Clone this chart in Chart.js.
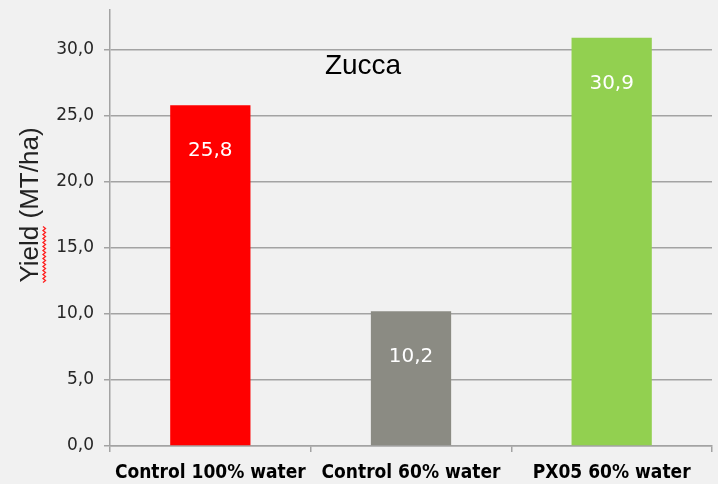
<!DOCTYPE html>
<html>
<head>
<meta charset="utf-8">
<script src="https://cdn.jsdelivr.net/npm/chart.js@4/dist/chart.umd.min.js"></script>
<style>
  html, body { margin: 0; padding: 0; background: #f1f1f1; }
  canvas { display: block; }
</style>
</head>
<body>
<canvas id="yield-chart" width="718" height="484"></canvas>
<script>
const categories = ['Control 100% water', 'Control 60% water', 'PX05 60% water'];
const yieldValues = [25.8, 10.2, 30.9];
const barColors = ['#ff0000', '#8b8b83', '#92d050'];
const yTicks = [0, 5, 10, 15, 20, 25, 30];
const chartTitle = 'Zucca';
const yTitle = 'Yield (MT/ha)';

const gridColor = '#a3a3a3';
const tickColor = '#262626';

const formatValue = (v) => v.toFixed(1).replace('.', ',');

const annotations = {
    id: 'annotations',
    afterDatasetsDraw(chart) {
        const { ctx } = chart;
        const bars = chart.getDatasetMeta(0).data;

        ctx.save();
        ctx.fillStyle = '#ffffff';
        ctx.font = '20px "DejaVu Sans"';
        ctx.textAlign = 'center';
        ctx.textBaseline = 'middle';
        bars.forEach((bar, i) => {
            ctx.fillText(formatValue(yieldValues[i]), bar.x, bar.y + 46);
        });

        // title sits inside the plot
        ctx.fillStyle = '#000000';
        ctx.font = '28px "Liberation Sans"';
        ctx.fillText(chartTitle, 363, 66);

        // y axis title
        ctx.translate(31, 205);
        ctx.rotate(-Math.PI / 2);
        ctx.font = '26px "Liberation Sans"';
        ctx.fillStyle = '#222222';
        ctx.fillText(yTitle, 0, 0);

        // spell-check squiggle under "Yield"
        const w = ctx.measureText('Yield').width;
        const x0 = -ctx.measureText(yTitle).width / 2;
        ctx.strokeStyle = '#ff2020';
        ctx.lineWidth = 1.3;
        ctx.beginPath();
        for (let x = 0; x <= w; x += 2) {
            const y = 12 + ((x / 2) % 2 === 0 ? 0 : 2.5);
            if (x === 0) ctx.moveTo(x0 + x, y); else ctx.lineTo(x0 + x, y);
        }
        ctx.stroke();
        ctx.restore();
    }
};

const chart = new Chart(document.getElementById('yield-chart'), {
    type: 'bar',
    data: {
        labels: categories,
        datasets: [{
            data: yieldValues,
            backgroundColor: barColors,
            borderWidth: 0,
            barPercentage: 0.4,
            categoryPercentage: 1
        }]
    },
    options: {
        responsive: false,
        animation: false,
        devicePixelRatio: 1,
        layout: { padding: { left: 0, right: 6, top: 10, bottom: 0 } },
        plugins: {
            legend: { display: false },
            tooltip: { enabled: false }
        },
        scales: {
            y: {
                min: 0,
                max: 33,
                afterBuildTicks: (scale) => {
                    scale.ticks = yTicks.map((value) => ({ value }));
                },
                afterFit: (scale) => {
                    scale.width = 110;
                    scale.paddingTop = 0;
                    scale.paddingBottom = 0;
                },
                ticks: {
                    callback: (v) => formatValue(v),
                    color: tickColor,
                    font: { family: 'DejaVu Sans', size: 17 },
                    padding: 10
                },
                grid: { color: gridColor, lineWidth: 1.5, tickLength: 6 },
                border: { color: gridColor, width: 1.5 }
            },
            x: {
                afterFit: (scale) => {
                    scale.height = 38;
                    scale.paddingLeft = 0;
                    scale.paddingRight = 0;
                },
                ticks: {
                    color: '#000000',
                    font: { family: 'DejaVu Sans Condensed', size: 19, weight: 'bold' },
                    padding: 10
                },
                grid: { drawOnChartArea: false, color: gridColor, lineWidth: 1.5, tickLength: 6, offset: true },
                border: { color: gridColor, width: 1.5 }
            }
        }
    },
    plugins: [annotations]
});
</script>
</body>
</html>
